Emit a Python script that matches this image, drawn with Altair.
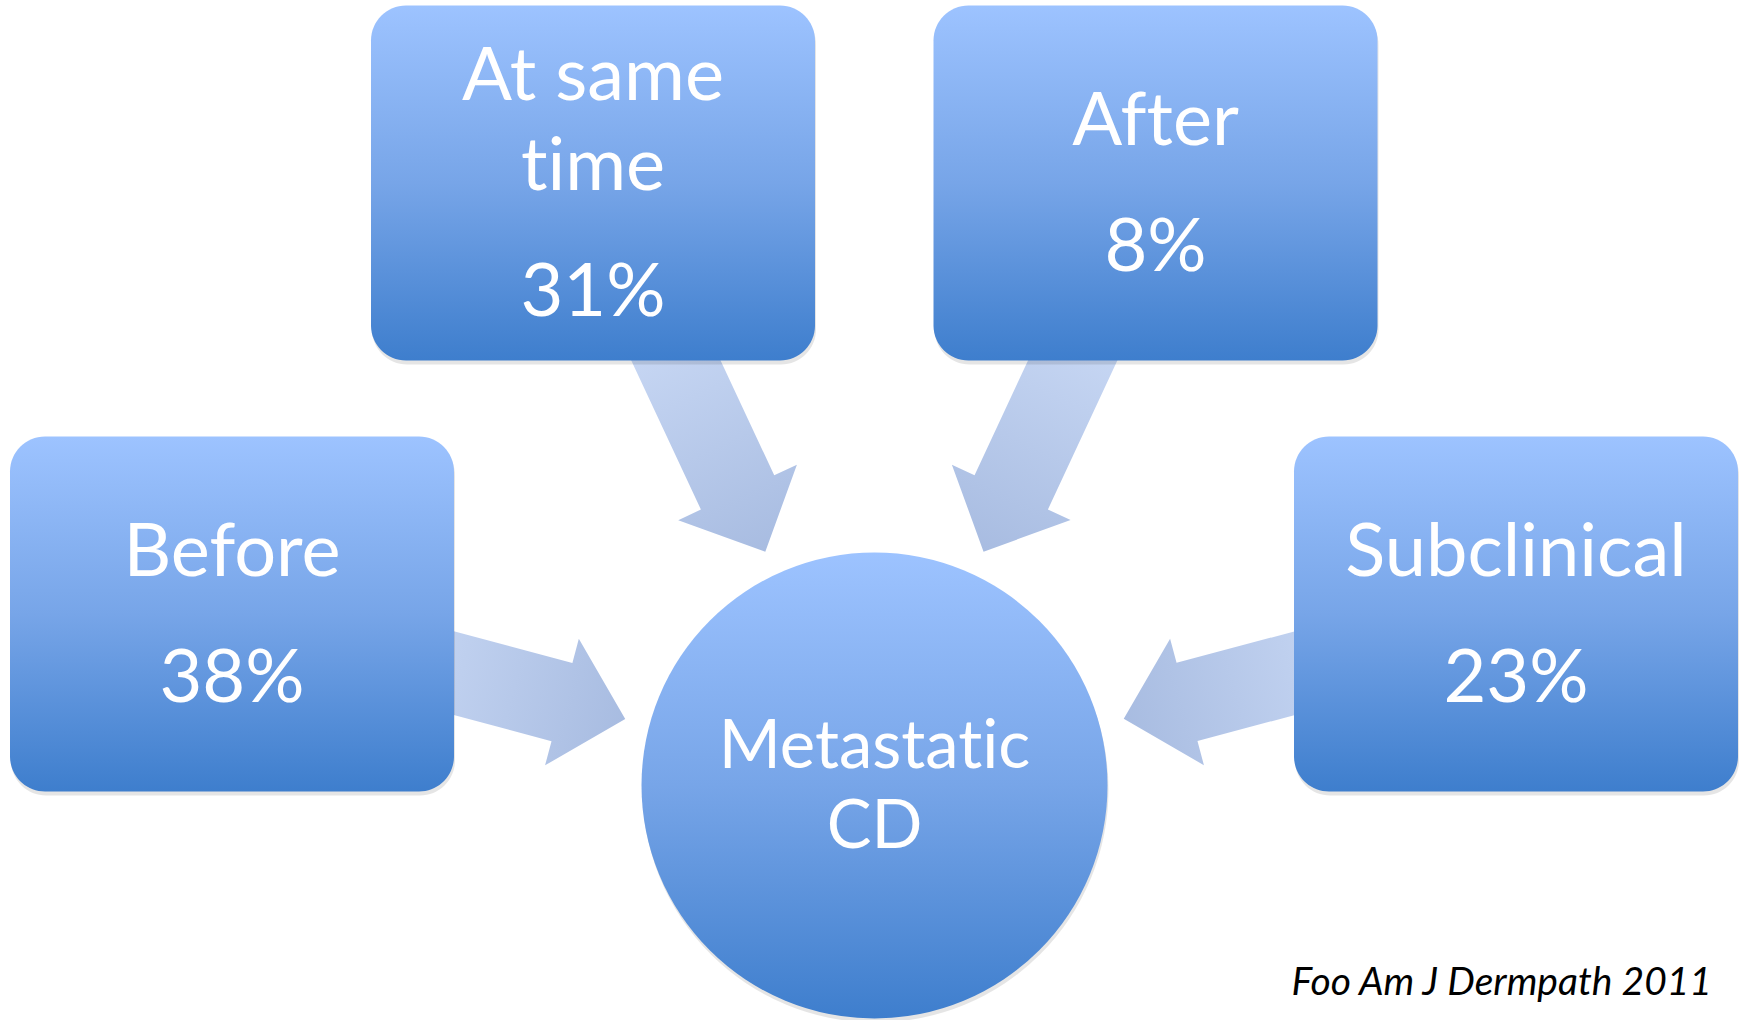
import math
import altair as alt
import pandas as pd

W, H = 1748, 1020

# ---------------- data ----------------
stages = ["Before", "At same time", "After", "Subclinical"]
stage_lines = [["Before"], ["At same", "time"], ["After"], ["Subclinical"]]
percents = [38, 31, 8, 23]
center_lines = ["Metastatic", "CD"]
source_note = "Foo Am J Dermpath 2011"

# ---------------- layout (pixels) ----------------
box_cx = [232, 593, 1155.5, 1516]
box_cy = [614, 183, 183, 614]
BOX_W, BOX_H = 444, 355
CIRCLE_CX, CIRCLE_CY, CIRCLE_D = 874.5, 785.5, 466
ARROW_LEN = 286
TIP_DIST = 258

FONT = "Lato"
BOX_FS = 74
CIRCLE_FS = 67
NOTE_FS = 39


def no_lig(s):
    # break the font's "ti"/"ft" ligatures so letters render separately
    return s.replace("ti", "t\u200ci").replace("ft", "f\u200ct")


# ---------------- tables ----------------
boxes = pd.DataFrame({
    "stage": stages,
    "x0": [c - BOX_W / 2 for c in box_cx],
    "x1": [c + BOX_W / 2 for c in box_cx],
    "y0": [c - BOX_H / 2 for c in box_cy],
    "y1": [c + BOX_H / 2 for c in box_cy],
})
shadow = boxes.copy()
shadow["y0"] = shadow["y0"] + 4
shadow["y1"] = shadow["y1"] + 4
shadow["x0"] = shadow["x0"] + 1
shadow["x1"] = shadow["x1"] + 1

rows = []
for cx, cy, lines, p in zip(box_cx, box_cy, stage_lines, percents):
    first = cy - 38 - 45 * (len(lines) - 1)
    for i, ln in enumerate(lines):
        rows.append({"x": cx, "y": first + 90 * i, "t": no_lig(ln)})
    rows.append({"x": cx, "y": first + 90 * (len(lines) - 1) + 126, "t": f"{p}%"})
box_text = pd.DataFrame(rows)

center_text = pd.DataFrame({
    "x": [CIRCLE_CX, CIRCLE_CX],
    "y": [CIRCLE_CY - 18, CIRCLE_CY + 62],
    "t": [no_lig(s) for s in center_lines],
})

arrows = []
for cx, cy, s in zip(box_cx, box_cy, stages):
    dx, dy = CIRCLE_CX - cx, CIRCLE_CY - cy
    d = math.hypot(dx, dy)
    ux, uy = dx / d, dy / d
    mid = TIP_DIST + ARROW_LEN / 2
    arrows.append({
        "stage": s,
        "x": CIRCLE_CX - ux * mid,
        "y": CIRCLE_CY - uy * mid,
        "angle": math.degrees(math.atan2(dy, dx)) % 360,
    })
arrows = pd.DataFrame(arrows)

circle = pd.DataFrame({"x": [CIRCLE_CX], "y": [CIRCLE_CY]})
circle_shadow = pd.DataFrame({"x": [CIRCLE_CX + 1], "y": [CIRCLE_CY + 4]})
note = pd.DataFrame({"x": [1712], "y": [995], "t": [source_note]})

# ---------------- scales & styles ----------------
xs = alt.Scale(domain=[0, W], nice=False, zero=False)
ys = alt.Scale(domain=[0, H], nice=False, zero=False, reverse=True)

blue_grad = {
    "gradient": "linear",
    "x1": 0, "x2": 0, "y1": 0, "y2": 1,
    "stops": [
        {"offset": 0, "color": "#9dc3ff"},
        {"offset": 0.5, "color": "#77a5e8"},
        {"offset": 1, "color": "#3e7ecd"},
    ],
}
arrow_grad = {
    "gradient": "linear",
    "x1": 0, "x2": 1, "y1": 0, "y2": 0,
    "stops": [
        {"offset": 0, "color": "#cddcf7"},
        {"offset": 1, "color": "#a8bce1"},
    ],
}

# arrow pointing right in unit square: tail at -1, tip at +1
hl = 65.5 / (ARROW_LEN / 2)
hw = 65.5 / (ARROW_LEN / 2)
sw = 40.5 / (ARROW_LEN / 2)
j = 1 - hl
ARROW_PATH = (f"M -1 {-sw:.3f} L {j:.3f} {-sw:.3f} L {j:.3f} {-hw:.3f} L 1 0 "
              f"L {j:.3f} {hw:.3f} L {j:.3f} {sw:.3f} L -1 {sw:.3f} Z")

X = lambda f: alt.X(f, type="quantitative", scale=xs, axis=None)
Y = lambda f: alt.Y(f, type="quantitative", scale=ys, axis=None)

arrow_layer = alt.Chart(arrows).mark_point(
    shape=ARROW_PATH, filled=True, opacity=1, size=ARROW_LEN ** 2,
    color=arrow_grad, strokeWidth=0,
).encode(x=X("x"), y=Y("y"), angle=alt.Angle("angle:Q", scale=None))

shadow_layer = alt.Chart(shadow).mark_rect(
    cornerRadius=35, color="#000000", opacity=0.10
).encode(x=X("x0"), x2="x1", y=Y("y0"), y2="y1")

box_layer = alt.Chart(boxes).mark_rect(
    cornerRadius=35, color=blue_grad
).encode(x=X("x0"), x2="x1", y=Y("y0"), y2="y1")

circle_shadow_layer = alt.Chart(circle_shadow).mark_point(
    shape="circle", filled=True, opacity=0.10, color="#000000",
    size=CIRCLE_D ** 2, strokeWidth=0,
).encode(x=X("x"), y=Y("y"))

circle_layer = alt.Chart(circle).mark_point(
    shape="circle", filled=True, opacity=1, color=blue_grad,
    size=CIRCLE_D ** 2, strokeWidth=0,
).encode(x=X("x"), y=Y("y"))

box_text_layer = alt.Chart(box_text).mark_text(
    font=FONT, fontSize=BOX_FS, color="white", align="center", baseline="alphabetic"
).encode(x=X("x"), y=Y("y"), text="t:N")

center_text_layer = alt.Chart(center_text).mark_text(
    font=FONT, fontSize=CIRCLE_FS, color="white", align="center", baseline="alphabetic"
).encode(x=X("x"), y=Y("y"), text="t:N")

note_layer = alt.Chart(note).mark_text(
    font=FONT, fontSize=NOTE_FS, fontStyle="italic", color="black",
    align="right", baseline="alphabetic"
).encode(x=X("x"), y=Y("y"), text="t:N")

chart = alt.layer(
    arrow_layer, shadow_layer, box_layer, circle_shadow_layer, circle_layer,
    box_text_layer, center_text_layer, note_layer,
).properties(
    width=W, height=H, padding=0, autosize="none", background="white"
).configure_view(stroke=None)

chart.save("out.html", embed_options={"renderer": "svg", "actions": False})
